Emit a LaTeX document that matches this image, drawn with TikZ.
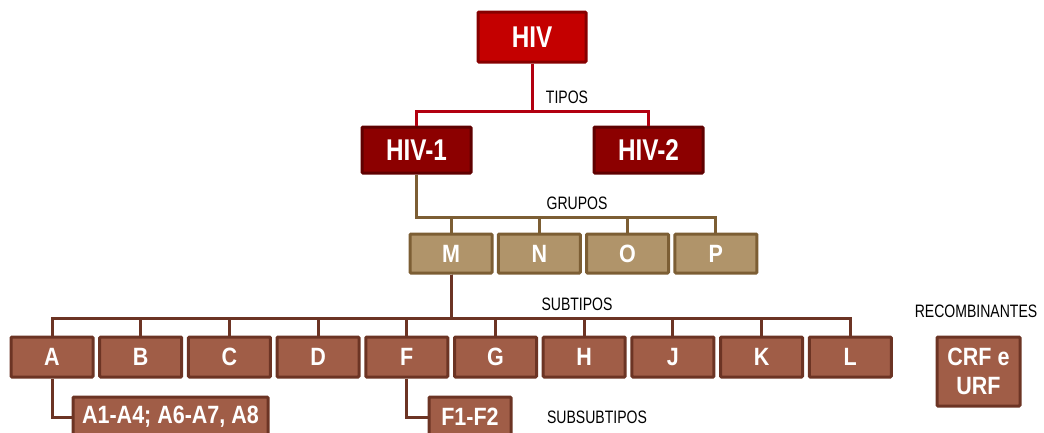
\documentclass[tikz,border=0pt]{standalone}
\usepackage{fontspec}
\setmainfont[FakeStretch=0.86]{Liberation Sans}
\newfontfamily\grande[FakeStretch=0.81]{Liberation Sans}
\newfontfamily\estreita[FakeStretch=0.78]{Liberation Sans}
\usetikzlibrary{calc,positioning}
\definecolor{R}{RGB}{196,0,0}
\definecolor{RB}{RGB}{135,0,0}
\definecolor{RL}{RGB}{178,0,16}
\definecolor{T}{RGB}{140,0,0}
\definecolor{TB}{RGB}{95,0,0}
\definecolor{G}{RGB}{176,148,106}
\definecolor{GB}{RGB}{124,94,52}
\definecolor{S}{RGB}{160,93,71}
\definecolor{SB}{RGB}{108,52,36}
\tikzstyle{caixa} = [rectangle, line width=3pt, inner sep=0pt,
rounded corners=1pt, text=white, font=\bfseries]
\tikzstyle{virus} = [caixa, fill=R, draw=RB, minimum width=108pt,
minimum height=50pt, font=\grande\bfseries\fontsize{30}{32}\selectfont]
\tikzstyle{tipo} = [caixa, fill=T, draw=TB, minimum width=109pt,
minimum height=46pt, font=\grande\bfseries\fontsize{30}{32}\selectfont]
\tikzstyle{grupo} = [caixa, fill=G, draw=GB, minimum width=82pt,
minimum height=39pt, font=\bfseries\fontsize{25}{27}\selectfont]
\tikzstyle{subtipo} = [caixa, fill=S, draw=SB, minimum width=82pt,
minimum height=40pt, font=\bfseries\fontsize{25}{27}\selectfont]
\tikzstyle{rotulo} = [inner sep=0pt, font=\estreita\fontsize{18}{20}\selectfont]
\tikzstyle{ligacao} = [line width=3pt]

\begin{document}
\begin{tikzpicture}[x=1pt,y=-1pt]
  \useasboundingbox (0,0) rectangle (1044,432);
  % tipos
  \node[virus] (hiv) at (532,37) {HIV};
  \node[tipo] (hiv1) at (416.5,150) {HIV-1};
  \node[tipo] (hiv2) at (648.5,150) {HIV-2};
  \draw[ligacao, draw=RL] (hiv.south) -- ++(0,48) -| (hiv1.north);
  \draw[ligacao, draw=RL] (hiv.south) -- ++(0,48) -| (hiv2.north);
  \node[rotulo] (tipos) at (567,97) {TIPOS};
  % grupos
  \foreach \X [count=\Y from 0] in {M,N,O,P}
    {\node[grupo] (grupo-\X) at ({451+88.3*\Y},253.5) {\X};
    \draw[ligacao, draw=GB] (hiv1.south) |- ([yshift=15pt]grupo-\X.north)
      -- (grupo-\X.north);}
  \node[rotulo] (grupos) at (577,203) {GRUPOS};
  % subtipos
  \foreach \X [count=\Y from 0] in {A,B,C,D,F,G,H,J,K,L}
    {\node[subtipo] (sub-\X) at ({52+88.7*\Y},357) {\X};
    \draw[ligacao, draw=SB] (grupo-M.south) |- ([yshift=17pt]sub-\X.north)
      -- (sub-\X.north);}
  \node[rotulo] (subtipos) at (577,304) {SUBTIPOS};
  % subsubtipos
  \node[subtipo, minimum width=195pt] (subsub-A) at (170.5,417)
    {A1-A4; A6-A7, A8};
  \node[subtipo] (subsub-F) at (470,417) {F1-F2};
  \draw[ligacao, draw=SB] (sub-A.south) |- (subsub-A.west);
  \draw[ligacao, draw=SB] (sub-F.south) |- (subsub-F.west);
  \node[rotulo] (subsubtipos) at (597,417) {SUBSUBTIPOS};
  % recombinantes
  \node[rotulo] (recomb) at (976,311) {RECOMBINANTES};
  \node[subtipo, minimum width=83pt, minimum height=69pt, align=center,
    font=\bfseries\fontsize{25}{29}\selectfont] (crf) at (978.5,371.5)
    {CRF e\\URF};
\end{tikzpicture}
\end{document}
